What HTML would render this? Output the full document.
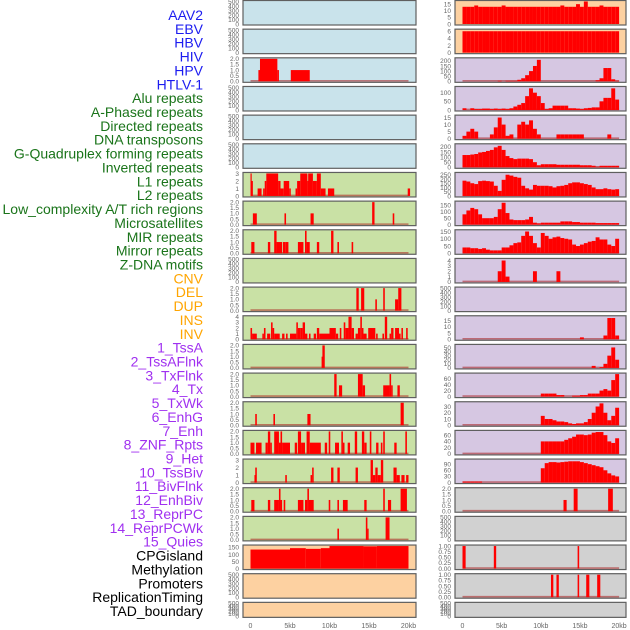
<!DOCTYPE html>
<html><head><meta charset="utf-8"><style>
html,body{margin:0;padding:0;background:#fff;}
svg{display:block;font-family:"Liberation Sans",sans-serif;}
</style></head><body>
<svg id="chart" width="630" height="630" viewBox="0 0 630 630" xmlns="http://www.w3.org/2000/svg"></svg>
<script>
const labelNames = ["AAV2","EBV","HBV","HIV","HPV","HTLV-1","Alu repeats","A-Phased repeats","Directed repeats","DNA transposons","G-Quadruplex forming repeats","Inverted repeats","L1 repeats","L2 repeats","Low_complexity A/T rich regions","Microsatellites","MIR repeats","Mirror repeats","Z-DNA motifs","CNV","DEL","DUP","INS","INV","1_TssA","2_TssAFlnk","3_TxFlnk","4_Tx","5_TxWk","6_EnhG","7_Enh","8_ZNF_Rpts","9_Het","10_TssBiv","11_BivFlnk","12_EnhBiv","13_ReprPC","14_ReprPCWk","15_Quies","CPGisland","Methylation","Promoters","ReplicationTiming","TAD_boundary"];
const labelGroups = [6,13,5,15,5];
const groupColors = ["#1c1cf0","#1a741a","#ffa500","#a030f0","#000000"];
const xTickLabels = ["0","5kb","10kb","15kb","20kb"];
const xTickValues = [0,5,10,15,20];

// left panels: background, ymax, tick labels, segments [startKb,endKb,value]
const leftBg = ["b","b","b","b","b","b","g","g","g","g","g","g","g","g","g","g","g","g","g","o","o","o"];
const leftMax = [500,500,2,500,500,500,3,2,2,500,2,4,2,2,2,2,3,2,2,160,500,500];
const leftTicks = [[0,100,200,300,400,500],[0,100,200,300,400,500],[0,0.5,1,1.5,2],[0,100,200,300,400,500],[0,100,200,300,400,500],[0,100,200,300,400,500],[0,1,2,3],[0,0.5,1,1.5,2],[0,0.5,1,1.5,2],[0,100,200,300,400,500],[0,0.5,1,1.5,2],[0,1,2,3,4],[0,0.5,1,1.5,2],[0,0.5,1,1.5,2],[0,0.5,1,1.5,2],[0,0.5,1,1.5,2],[0,1,2,3],[0,0.5,1,1.5,2],[0,0.5,1,1.5,2],[0,50,100,150],[0,100,200,300,400,500],[0,100,200,300,400,500]];
const leftSegs = [
[],[],
[[1.0,1.2,1],[1.2,3.4,2],[3.4,3.6,1],[5.1,7.5,1]],
[],[],[],
[[0,0.1,3],[0.1,0.3,2],[0.9,1.4,1],[1.6,1.8,1],[1.8,2.0,2],[2.0,3.5,3],[3.5,3.8,2],[3.8,4.2,1],[4.2,4.9,2],[4.9,5.1,1],[5.7,5.9,1],[5.9,6.3,2],[6.3,7.2,3],[7.2,7.3,2],[7.3,7.9,3],[7.9,8.4,2],[8.4,8.9,3],[8.9,9.5,1],[9.8,10.6,1],[19.9,20.2,1]],
[[0.3,0.8,1],[4.3,4.5,1],[7.6,8.0,1],[15.4,15.7,2],[18.0,18.2,1]],
[[0.1,0.5,1],[2.2,2.5,1],[3.0,3.3,2],[3.3,4.0,1],[4.1,4.4,1],[4.4,4.8,1],[6.0,6.7,1],[6.9,7.1,2],[7.1,7.5,1],[8.4,8.7,1],[10.2,10.5,2],[11.0,11.2,1],[12.8,13.0,1]],
[],
[[13.4,13.7,2],[14.0,14.4,2],[15.8,16.0,1],[16.8,17.0,2],[18.3,18.7,1],[18.7,19.1,2]],
[[0,0.2,2],[0.2,0.8,1],[1.5,1.7,1],[1.7,1.9,2],[2.1,2.5,1],[2.6,2.8,3],[2.8,3.0,2],[3.0,3.7,1],[4.0,4.3,1],[4.5,4.7,1],[5.0,5.8,1],[5.8,6.0,3],[6.0,6.3,2],[6.3,6.6,2],[6.6,6.9,3],[6.9,7.2,1],[7.4,7.6,1],[8.0,8.3,1],[8.4,8.7,2],[8.7,10.0,1],[10.0,10.8,2],[10.8,11.1,1],[11.3,11.5,2],[11.8,12.0,3],[12.0,12.4,2],[12.4,12.8,4],[12.8,13.1,2],[13.3,13.6,1],[13.6,13.9,2],[13.9,14.1,4],[14.1,14.3,2],[14.3,14.7,1],[14.9,15.8,2],[15.9,16.1,1],[16.7,16.9,1],[17.0,17.3,4],[17.6,17.8,1],[17.8,18.1,2],[18.3,18.8,2],[18.8,19.0,1],[19.1,19.3,2],[19.7,19.9,2]],
[[9.0,9.1,1],[9.1,9.4,2]],
[[10.6,10.9,2],[11.2,11.6,1],[13.6,14.2,2],[14.2,14.5,1],[16.8,17.6,1],[17.6,17.8,2],[17.8,18.0,1],[18.6,18.9,1]],
[[0.6,0.8,1],[2.9,3.1,1],[7.2,7.6,1],[19.0,19.4,2]],
[[0,0.5,1],[0.7,1.4,1],[1.9,2.2,1],[2.2,2.5,2],[2.5,2.7,1],[3.0,3.6,2],[3.6,3.8,1],[3.8,4.0,2],[4.0,5.0,1],[5.6,5.9,1],[6.0,6.4,2],[6.4,6.9,1],[7.1,7.5,2],[7.5,8.9,1],[9.4,9.7,1],[9.9,10.1,2],[10.7,11.2,1],[11.5,11.7,2],[11.7,11.9,1],[12.3,12.6,1],[13.2,13.5,2],[14.1,14.4,2],[14.4,14.7,1],[15.1,15.3,2],[15.9,16.2,1],[16.5,16.7,1],[16.8,17.0,2],[18.2,18.5,1],[19.6,19.8,2]],
[[0.5,0.6,1],[0.6,0.8,2],[4.4,4.6,1],[7.6,7.8,1],[7.8,8.0,2],[10.2,10.5,2],[11.0,11.3,2],[13.3,13.6,2],[15.2,15.5,3],[15.5,15.8,1],[15.8,16.1,2],[16.1,16.5,1],[16.5,16.8,3],[18.1,18.5,2],[18.5,18.9,1],[19.1,19.5,1],[19.7,20.0,1]],
[[0.1,0.5,1],[2.2,2.5,1],[3.0,3.6,1],[3.6,3.8,2],[3.8,4.0,1],[4.2,4.4,1],[6.0,6.7,1],[6.9,7.2,1],[7.2,7.4,2],[7.4,8.0,1],[9.9,10.1,1],[11.0,11.2,1],[11.7,12.3,1],[14.4,14.7,1],[16.8,17.0,2],[17.4,17.8,1],[19.0,19.8,2]],
[[11.0,11.2,1],[14.6,14.8,2],[14.8,14.9,1],[17.1,17.6,2]],
[[0,5.0,135],[5.0,7.0,145],[7.0,8.9,140],[8.9,10.0,145],[10.0,14.3,160],[14.3,16.0,158],[16.0,20.0,160]],
[],[]
];

// right panels: 40 bins of 0.5kb each (or segments for grey rows)
const rightBg = ["o","o","p","p","p","p","p","p","p","p","p","p","p","p","p","p","p","y","y","y","y","y"];
const rightMax = [17,6.3,220,130,16,220,265,175,155,4.2,500,18,55,75,36,72,110,2,500,1,1,500];
const rightTicks = [[0,5,10,15],[0,2,4,6],[0,50,100,150,200],[0,50,100],[0,5,10,15],[0,50,100,150,200],[0,50,100,150,200,250],[0,50,100,150],[0,50,100,150],[0,1,2,3,4],[0,100,200,300,400,500],[0,5,10,15],[0,10,20,30,40,50],[0,20,40,60],[0,10,20,30],[0,20,40,60],[0,30,60,90],[0,0.5,1,1.5,2],[0,100,200,300,400,500],[0,0.25,0.5,0.75,1],[0,0.25,0.5,0.75,1],[0,100,200,300,400,500]];
const rAAV2 = [13,13,13,14,13,13,13,13,13,13,14,13,13,13,13,13,13,13,13,13,13,13,13,13,13,14,13,13,13,15,13,17,13,13,13,14,13,13,13,13];
const rEBV = [6,6,6,6,6,6,6,6,6,6,6,6,6,6,6,6,6,6,6,6,6,6,6,6,6,6,6,6,6,6,6,6,6,6,6,6,6,6,6,6];
const rHIV = [0,0,0,0,0,0,0,0,0,5,0,5,5,5,15,30,60,100,150,210,0,0,0,0,0,0,0,0,0,0,0,0,0,0,10,30,130,130,20,5];
const rHBV = [10,0,10,5,5,8,8,5,8,5,8,5,10,20,30,40,80,125,100,80,40,5,10,25,25,25,25,10,10,8,5,10,12,15,15,50,70,70,125,60];
const rHPV = [2,5,7,5,0,0,0,3,8,15,10,2,3,0,10,12,10,13,7,3,0,0,0,0,3,3,3,3,3,3,3,0,0,0,0,0,0,3,0,0];
const rHTLV = [120,120,125,130,145,150,160,170,195,210,170,110,90,80,85,85,85,80,50,20,30,30,30,30,25,25,25,25,25,25,20,20,20,15,5,15,15,15,15,15];
const rAlu = [180,170,150,140,175,180,175,170,120,60,190,250,240,225,215,120,90,75,130,120,120,120,115,100,115,120,130,150,160,160,150,140,130,100,80,80,90,80,75,80];
const rAPhased = [80,110,130,120,80,50,50,50,60,120,170,90,40,35,35,35,40,60,15,10,15,15,15,15,15,25,25,25,20,20,15,15,15,15,12,12,12,12,12,12];
const rDirected = [40,40,35,35,30,35,25,20,20,20,40,40,55,70,75,120,150,120,70,40,140,120,100,110,115,105,100,95,60,50,60,70,80,85,110,95,95,60,50,100];
const rDNAtrans = [0,0,0,0,0,0,0,0,0,2,4,1,0,0,0,0,0,0,2,0,0,0,0,0,2,0,0,0,0,0,0,0,0,0,0,0,0,0,0,0];
const rGQuad = [];
const rInverted = [0,0,0,0,0,0,0,0,0,0,0,0,0,0,0,0,0,0,0,0,0,0,0,0,0,0,0,0,0,0,1.5,0,0,0,0,0,3,17,17,3];
const rL1 = [0,0,0,0,0,0,0,0,0,0,0,0,0,0,0,0,0,0,0,0,0,0,0,0,0,0,0,0,0,0,0,0,0,5,0,2,10,30,50,20];
const rL2 = [0,0,0,0,0,0,0,0,0,0,0,0,0,0,0,0,0,0,0,0,10,10,10,10,5,5,0,0,3,3,5,5,10,10,10,20,25,20,55,75];
const rLowComp = [0,0,0,0,0,0,0,0,0,0,0,0,0,0,0,0,0,0,0,0,15,10,10,8,6,6,5,3,2,3,3,5,10,20,30,35,20,8,15,28];
const rMicro = [0,0,0,0,0,0,0,0,0,0,0,0,0,0,0,0,0,0,0,0,40,40,40,40,40,40,45,50,55,62,62,60,62,68,70,70,60,40,35,50];
const rMIR = [5,5,5,5,5,0,0,0,0,0,0,0,0,0,0,0,0,0,0,0,70,95,100,100,98,100,102,104,104,104,100,95,90,85,80,75,60,45,35,30];
const rightBins = [rAAV2,rEBV,rHIV,rHBV,rHPV,rHTLV,rAlu,rAPhased,rDirected,rDNAtrans,rGQuad,rInverted,rL1,rL2,rLowComp,rMicro,rMIR];
const rGrey17 = [[12.9,13.3,1],[14.2,14.7,2],[18.6,19.2,2]];
const rGrey19 = [[0,0.4,1],[4.0,4.3,1],[14.7,14.9,1]];
const rGrey20 = [[11.3,11.6,1],[12.0,12.3,1],[14.7,14.9,1],[15.8,16.2,1],[17.2,17.6,1]];
const rightSegExtra = {17:rGrey17,18:[],19:rGrey19,20:rGrey20,21:[]};

const NS = "http://www.w3.org/2000/svg";
const svg = document.getElementById("chart");
const bgColors = {b:"#c9e3eb",g:"#c9e1a5",o:"#fdd1a1",p:"#d6c7e2",y:"#d1d1d1"};
function mk(tag, attrs){const e=document.createElementNS(NS,tag);for(const k in attrs)e.setAttribute(k,attrs[k]);svg.appendChild(e);return e;}
function rowTop(i){return 0.5 + i*28.66;}
function rowH(i){return i===21 ? 15 : 24.5;}
function xL(kb){return 250.5 + kb*7.9;}
function xR(kb){return 462.5 + kb*7.83;}
function yScale(i,v,max){const b=rowTop(i)+rowH(i)-1;return b - v/max*(rowH(i)-2);}
function fmt(t,ticks){const dec=ticks.some(x=>x%1!==0)? (ticks.some(x=>(x*10)%1!==0)?2:1):0;return t.toFixed(dec);}

function drawPanel(i, side, bg, max, ticks, segs, hasData){
  const x0 = side==="L"?243:455, x1 = side==="L"?416:626;
  const xf = side==="L"?xL:xR;
  const top=rowTop(i), h=rowH(i);
  const fr = mk("rect",{x:x0,y:top,width:x1-x0,height:h,fill:bgColors[bg],stroke:"#5f5f5f","stroke-width":1.2});
  
  
  ticks.forEach(t=>{
    const tx = mk("text",{x:x0-4,y:yScale(i,t,max)+2.3,"font-size":6.5,fill:"#666","text-anchor":"end"});
    tx.textContent = fmt(t,ticks);
    
    
  });
  if(hasData){
    const bl = mk("line",{x1:xf(0),x2:xf(20),y1:yScale(i,0,max)-0.5,y2:yScale(i,0,max)-0.5,stroke:"rgba(170,30,30,0.55)","stroke-width":1.6});
    
    
  }
  segs.forEach(s=>{
    if(s[2]<=0) return;
    const v=Math.min(s[2],max);
    const r = mk("rect",{x:xf(s[0]),y:yScale(i,v,max),width:Math.max(xf(s[1])-xf(s[0]),1.2),height:yScale(i,0,max)-yScale(i,v,max),fill:"#ff0000"});
    
    
  });
}

for(let i=0;i<22;i++){
  const segs = leftSegs[i];
  drawPanel(i,"L",leftBg[i],leftMax[i],leftTicks[i],segs,segs.length>0);
}
for(let i=0;i<22;i++){
  let segs=[];
  if(i<17){ segs = rightBins[i].map((v,k)=>[k*0.5,(k+1)*0.5,v]); }
  else segs = rightSegExtra[i];
  drawPanel(i,"R",rightBg[i],rightMax[i],rightTicks[i],segs,segs.length>0 && i>1);
}
// x axis labels
xTickValues.forEach((v,k)=>{
  const a = mk("text",{x:xL(v),y:628,"font-size":7,fill:"#666","text-anchor":"middle"});
  a.textContent = xTickLabels[k];
  
  
  const b = mk("text",{x:xR(v),y:628,"font-size":7,fill:"#666","text-anchor":"middle"});
  b.textContent = xTickLabels[k];
  
  
});
// row labels
let gi=0, cnt=0;
labelNames.forEach((n,k)=>{
  while(cnt>=labelGroups[gi]){cnt=0;gi++;}
  cnt++;
  const t = mk("text",{x:203,y:20+k*13.86,"font-size":14,fill:groupColors[gi],"text-anchor":"end"});
  t.textContent = n;
  
  
});
</script>
</body></html>
